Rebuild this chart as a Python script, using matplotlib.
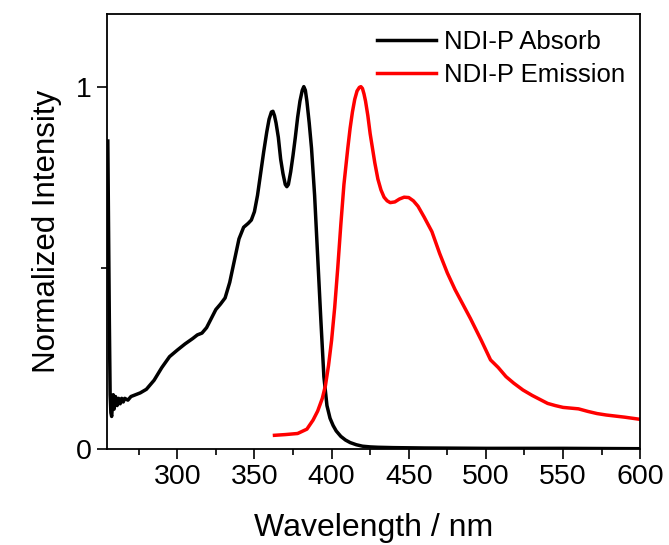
import matplotlib
matplotlib.use("Agg")
import matplotlib.pyplot as plt
from matplotlib.ticker import MultipleLocator

plt.rcParams['font.family'] = ['Liberation Sans', 'DejaVu Sans']

# Absorption (black)
abs_wl = [255, 255.5, 256, 256.5, 257, 257.5, 258, 258.5, 259, 259.5, 260, 261, 262, 263,
          264, 265, 266, 268, 270, 273, 276, 280, 285, 290, 295, 300, 305, 310, 313, 316,
          319, 322, 325, 328, 331, 334, 337, 340, 343, 346, 348, 350, 352, 354, 356, 358,
          359.5, 361, 362, 363, 364, 365.5, 367, 368.5, 370, 371, 372, 373.5, 375, 376.5,
          378, 379.5, 381, 382, 383, 384, 385.5, 387, 389, 391, 393, 395, 397, 399, 401,
          403, 406, 409, 412, 416, 420, 425, 430, 440, 460, 500, 550, 600]
abs_val = [0.85, 0.6, 0.35, 0.15, 0.10, 0.09, 0.12, 0.15, 0.11, 0.13, 0.145, 0.12, 0.14, 0.125,
           0.14, 0.13, 0.14, 0.135, 0.145, 0.15, 0.155, 0.165, 0.19, 0.225, 0.255, 0.273, 0.29,
           0.305, 0.315, 0.32, 0.335, 0.36, 0.385, 0.40, 0.417, 0.46, 0.52, 0.58, 0.612, 0.623,
           0.632, 0.655, 0.70, 0.76, 0.82, 0.875, 0.91, 0.93, 0.932, 0.92, 0.90, 0.86, 0.80,
           0.76, 0.73, 0.724, 0.73, 0.765, 0.81, 0.86, 0.915, 0.96, 0.99, 1.0, 0.99, 0.96,
           0.90, 0.83, 0.70, 0.53, 0.36, 0.20, 0.12, 0.085, 0.065, 0.05, 0.035, 0.025, 0.018,
           0.012, 0.008, 0.006, 0.005, 0.004, 0.003, 0.002, 0.002, 0.001]

# Emission (red)
em_wl = [363, 370, 378, 384, 388, 391, 394, 396, 398, 400, 402, 404, 406, 408, 409, 410.5,
         412, 413.5, 415, 416.5, 418, 419, 420, 421, 422, 423.5, 425, 426.5, 428, 430, 432,
         434, 436, 438, 441, 444, 447, 450, 453, 456, 460, 465, 470, 475, 480, 485, 490, 497,
         503, 508, 513, 518, 524, 530, 535, 540, 545, 550, 555, 560, 566, 572, 578, 584, 590,
         595, 600]
em_val = [0.038, 0.04, 0.043, 0.055, 0.08, 0.105, 0.14, 0.175, 0.23, 0.30, 0.39, 0.50, 0.62,
          0.73, 0.77, 0.83, 0.885, 0.93, 0.965, 0.988, 0.998, 1.0, 0.995, 0.98, 0.96, 0.92,
          0.87, 0.83, 0.79, 0.745, 0.715, 0.695, 0.685, 0.68, 0.682, 0.69, 0.695, 0.694,
          0.685, 0.67, 0.64, 0.60, 0.54, 0.486, 0.44, 0.40, 0.36, 0.30, 0.246, 0.225, 0.20,
          0.182, 0.163, 0.148, 0.137, 0.126, 0.12, 0.115, 0.113, 0.111, 0.104, 0.098, 0.094,
          0.091, 0.088, 0.085, 0.082]

fig = plt.figure(figsize=(6.69, 5.45), dpi=100)
ax = fig.add_axes([0.160, 0.176, 0.797, 0.798])

ax.plot(abs_wl, abs_val, color='black', lw=2.5, label='NDI-P Absorb')
ax.plot(em_wl, em_val, color='#ff0000', lw=2.5, label='NDI-P Emission')

ax.set_xlim(254.5, 600)
ax.set_ylim(0, 1.2)
ax.set_xticks([300, 350, 400, 450, 500, 550, 600])
ax.xaxis.set_minor_locator(MultipleLocator(25))
ax.set_yticks([0, 1])
ax.yaxis.set_minor_locator(MultipleLocator(0.5))
ax.tick_params(which='both', direction='out', top=False, right=False, width=1.2)
ax.tick_params(which='major', length=7, labelsize=20.5, pad=4)
ax.tick_params(which='minor', length=4)
for s in ax.spines.values():
    s.set_linewidth(1.3)

ax.set_xlabel('Wavelength / nm', fontsize=23, labelpad=16)
ax.set_ylabel('Normalized Intensity', fontsize=22.5, labelpad=10)

ax.legend(loc='upper right', frameon=False, fontsize=18.5, handlelength=2.3,
          handletextpad=0.3, labelspacing=0.35, borderaxespad=0.3, borderpad=0.3)

fig.savefig('out.png', dpi=100)
